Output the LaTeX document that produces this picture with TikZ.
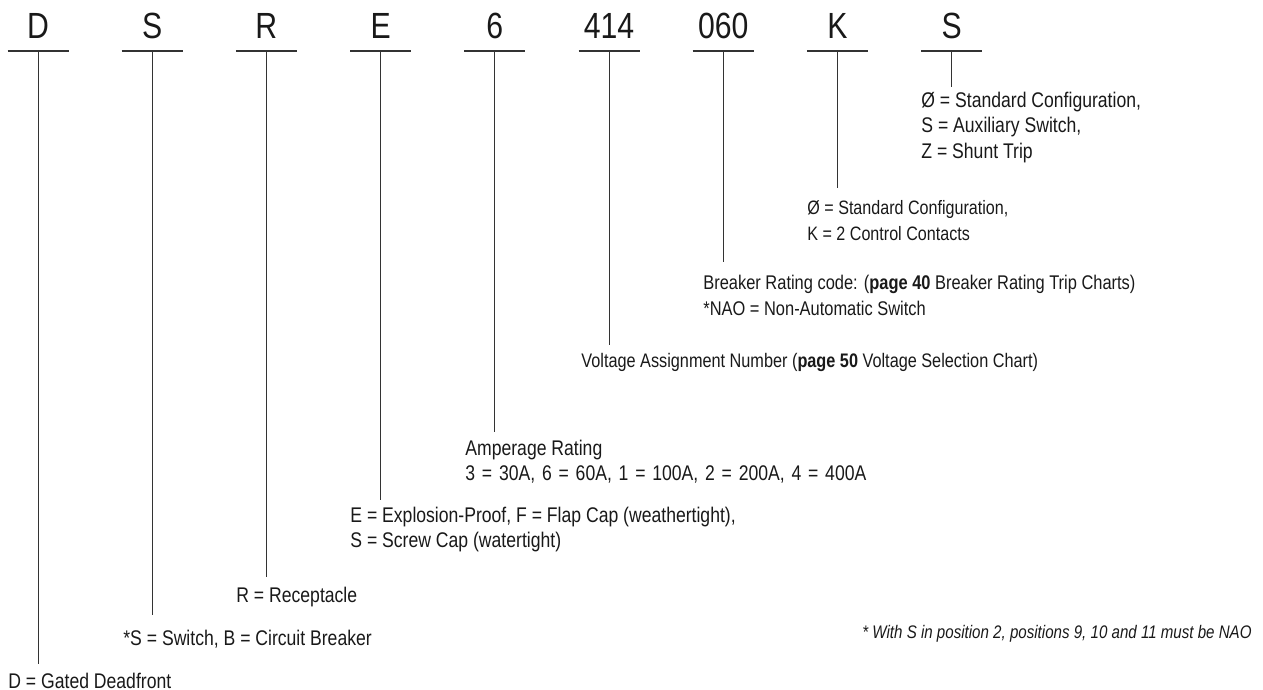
\documentclass[tikz,border=0pt]{standalone}
\usepackage{fontspec}
\setmainfont{Liberation Sans}[FakeStretch=0.83]
\usetikzlibrary{positioning}
\newcommand\widespace{\spaceskip=3.4pt plus 1pt\relax}

\begin{document}
\begin{tikzpicture}[x=0.5pt, y=-0.5pt,
  code/.style={font=\fontsize{18.2}{20}\selectfont, anchor=base, inner sep=0pt, text=black!90},
  desc/.style={font=\fontsize{9.8}{12}\selectfont, anchor=base west, inner sep=0pt, text=black!90},
  big/.style={font=\fontsize{10.6}{12}\selectfont},
  wide/.style={font=\fontsize{10.6}{12}\selectfont\widespace},
  rule/.style={line width=0.65pt, black!80},
  stem/.style={line width=0.5pt, black!80}]
\useasboundingbox (0,0) rectangle (1263,690);

% Code positions with their underlines and stems
\foreach \code/\stemend [count=\i from 0] in {D/664, S/615, R/577, E/500, 6/432, 414/345, 060/262, K/188, S/87}{
  \pgfmathsetmacro{\hx}{38+114.2*\i}
  \node[code] (h\i) at (\hx,39) {\code};
  \draw[rule] (\hx-30.5,51) -- (\hx+30.5,51);
  \coordinate (u\i) at (\hx,51);
  \coordinate (e\i) at (\hx,\stemend);
  \draw[stem] (u\i) -- (e\i);
}

% Meaning of each position
\node[desc, big] (d8a) at (921,108) {Ø = Standard Configuration,};
\node[desc, big] (d8b) at (921,133) {S = Auxiliary Switch,};
\node[desc, big] (d8c) at (921,158) {Z = Shunt Trip};

\node[desc, font=\fontsize{9.7}{12}\selectfont] (d7a) at (807,214) {Ø = Standard Configuration,};
\node[desc, font=\fontsize{9.7}{12}\selectfont] (d7b) at (807,240) {K = 2 Control Contacts};

\node[desc, font=\fontsize{9.9}{12}\selectfont] (d6a) at (703,289) {Breaker Rating code: (\textbf{page 40} Breaker Rating Trip Charts)};
\node[desc, font=\fontsize{9.9}{12}\selectfont] (d6b) at (703,315) {*NAO = Non-Automatic Switch};

\node[desc] (d5a) at (581,367) {Voltage Assignment Number (\textbf{page 50} Voltage Selection Chart)};

\node[desc, big] (d4a) at (465,455) {Amperage Rating};
\node[desc, wide] (d4b) at (465,480) {3 = 30A, 6 = 60A, 1 = 100A, 2 = 200A, 4 = 400A};

\node[desc, big] (d3a) at (350,522) {E = Explosion-Proof, F = Flap Cap (weathertight),};
\node[desc, big] (d3b) at (350,547) {S = Screw Cap (watertight)};

\node[desc, big] (d2a) at (236,602) {R = Receptacle};
\node[desc, big] (d1a) at (123,645) {*S = Switch, B = Circuit Breaker};
\node[desc, big] (d0a) at (8,688) {D = Gated Deadfront};

% Footnote
\node[desc, anchor=base east, font=\fontsize{9.1}{11}\selectfont\itshape] (note) at (1252,638) {* With S in position 2, positions 9, 10 and 11 must be NAO};
\end{tikzpicture}
\end{document}
